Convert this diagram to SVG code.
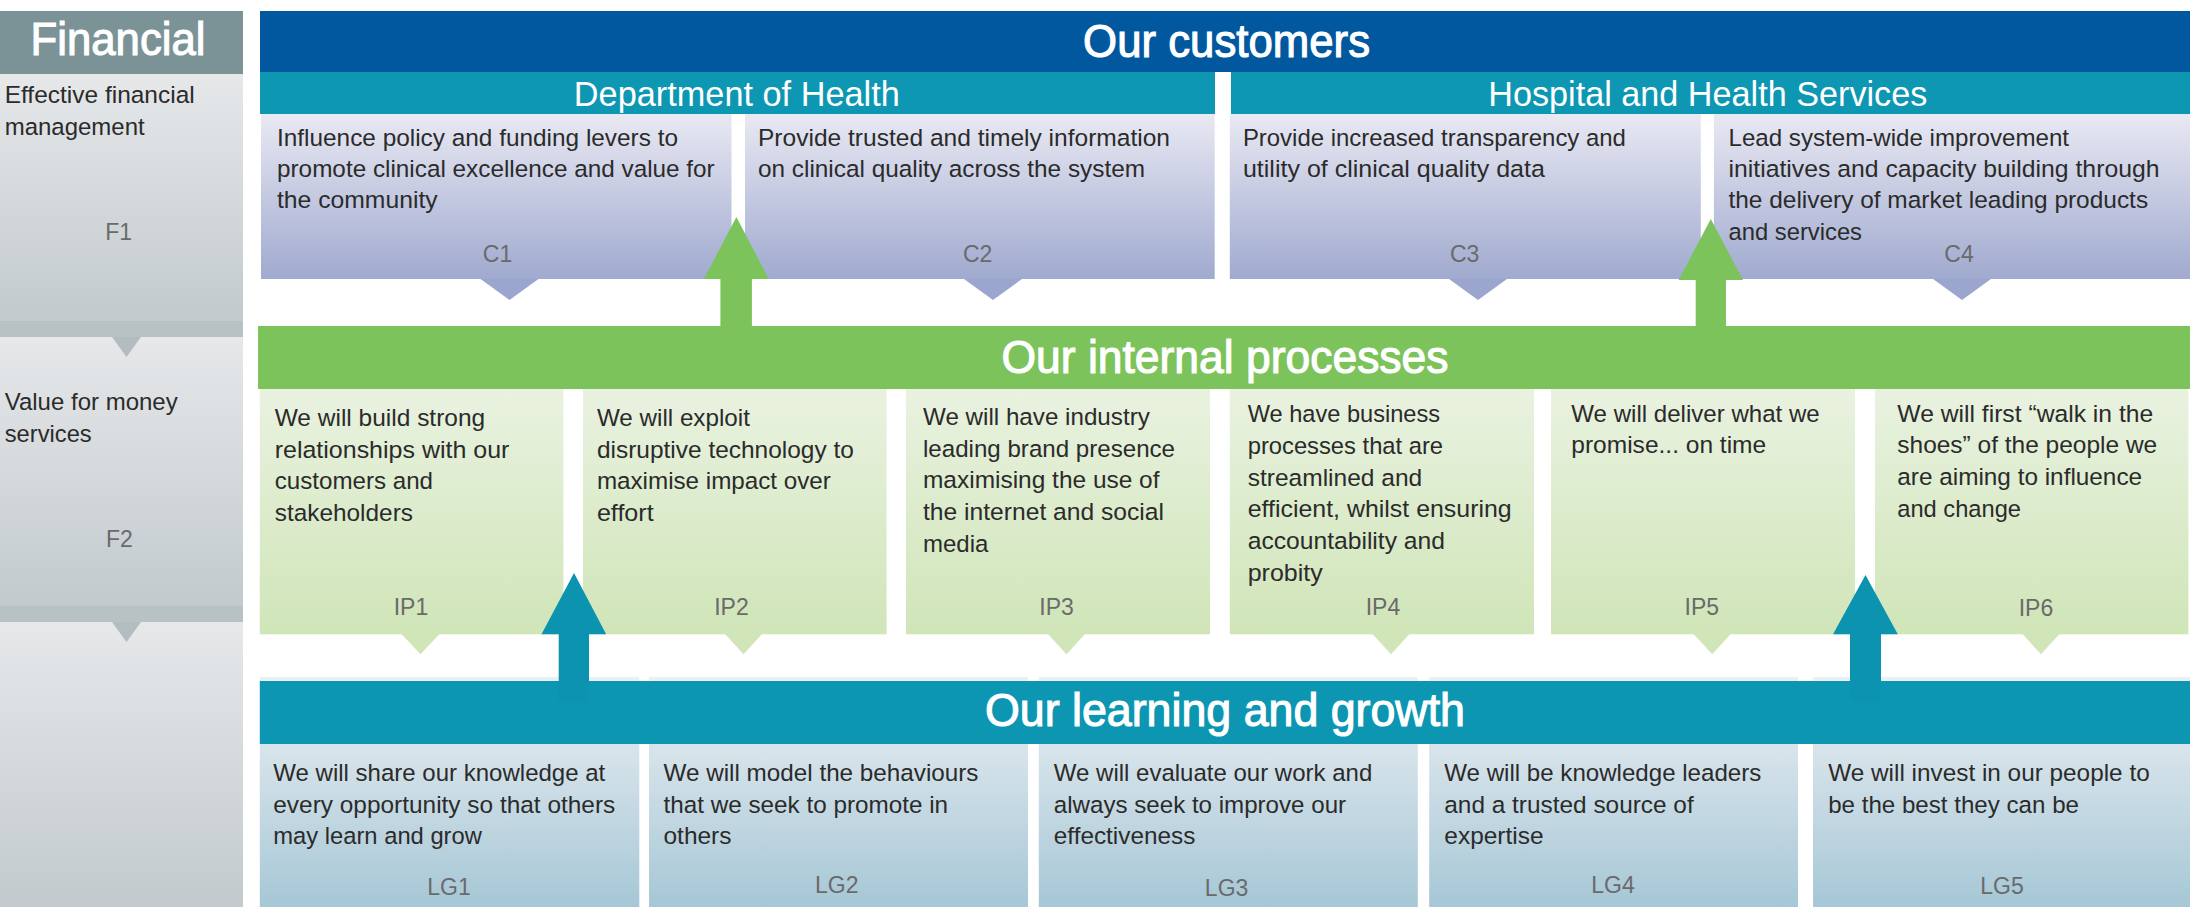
<svg xmlns="http://www.w3.org/2000/svg" width="2190" height="907" viewBox="0 0 2190 907">
<style>
.t{font-family:"Liberation Sans Narrow","Liberation Sans",Arial,sans-serif;font-size:24.5px;fill:#2b2b2b}
.lb{font-family:"Liberation Sans Narrow","Liberation Sans",Arial,sans-serif;font-size:23px;fill:#6a6a6a;text-anchor:middle}
.h1{font-family:"Liberation Sans",Arial,sans-serif;font-size:46px;fill:#fff;stroke:#fff;stroke-width:1.1px;text-anchor:middle}
.h2{font-family:"Liberation Sans",Arial,sans-serif;font-size:35px;fill:#fff;text-anchor:middle}
.band{fill:#b8c1c4}
.ftri{fill:#b3bdc0}
.ctri{fill:#9ba6cf}
.iptri{fill:#d0e5b8}
.garrow{fill:#7dc35c}
.tarrow{fill:#0b93af}
</style>
<defs>
<linearGradient id="gF" x1="0" y1="0" x2="0" y2="1"><stop offset="0" stop-color="#e6e8ea"/><stop offset="1" stop-color="#c2cacd"/></linearGradient>
<linearGradient id="gC" x1="0" y1="0" x2="0" y2="1"><stop offset="0" stop-color="#e9e9f3"/><stop offset="1" stop-color="#a0aacf"/></linearGradient>
<linearGradient id="gIP" x1="0" y1="0" x2="0" y2="1"><stop offset="0" stop-color="#e9f2e0"/><stop offset="1" stop-color="#d0e5b8"/></linearGradient>
<linearGradient id="gLG" x1="0" y1="0" x2="0" y2="1"><stop offset="0" stop-color="#eaf1f4"/><stop offset="0.3" stop-color="#d8e4eb"/><stop offset="1" stop-color="#a6c7d6"/></linearGradient>
</defs>
<rect width="2190" height="907" fill="#fff"/>

<g id="financial">
<rect x="0" y="11" width="243" height="63" fill="#7b9397"/>
<text class="h1" x="118" y="55" font-size="45" textLength="175" lengthAdjust="spacingAndGlyphs">Financial</text>
</g>
<g id="F1">
<rect x="0" y="74" width="243" height="247" fill="url(#gF)"/>
<rect x="0" y="321" width="243" height="16" class="band"/>
<polygon points="112,337 141,337 126.5,357" class="ftri"/>
<text class="t" x="4.7" y="103" textLength="190" lengthAdjust="spacingAndGlyphs">Effective financial</text>
<text class="t" x="4.7" y="135" textLength="140" lengthAdjust="spacingAndGlyphs">management</text>
<text class="lb" x="118.7" y="240" font-size="24">F1</text>
</g>
<g id="F2">
<rect x="0" y="337" width="243" height="269" fill="url(#gF)"/>
<polygon points="112,337 141,337 126.5,357" class="ftri"/>
<rect x="0" y="606" width="243" height="16" class="band"/>
<polygon points="112,622 141,622 126.5,642" class="ftri"/>
<text class="t" x="4.7" y="410" textLength="173" lengthAdjust="spacingAndGlyphs">Value for money</text>
<text class="t" x="4.7" y="441.7" textLength="87" lengthAdjust="spacingAndGlyphs">services</text>
<text class="lb" x="119.4" y="546.7" font-size="24">F2</text>
</g>
<g id="F3">
<rect x="0" y="622" width="243" height="285" fill="url(#gF)"/>
<polygon points="112,622 141,622 126.5,642" class="ftri"/>
</g>

<g id="customers-header">
<rect x="260" y="11" width="1930" height="61" fill="#02589e"/>
<text class="h1" x="1226.6" y="56.7" textLength="287" lengthAdjust="spacingAndGlyphs">Our customers</text>
</g>
<g id="doh-header">
<rect x="260" y="72" width="955" height="42" fill="#0e97b3"/>
<text class="h2" x="736.8" y="106" textLength="326" lengthAdjust="spacingAndGlyphs">Department of Health</text>
</g>
<g id="hhs-header">
<rect x="1231" y="72" width="959" height="42" fill="#0e97b3"/>
<text class="h2" x="1707.8" y="106" textLength="439" lengthAdjust="spacingAndGlyphs">Hospital and Health Services</text>
</g>

<g id="C1">
<rect x="261" y="114" width="470.5" height="165" fill="url(#gC)"/>
<polygon points="480.5,279 538.5,279 509.5,300" class="ctri"/>
<text class="t" x="277" y="145.7" textLength="401" lengthAdjust="spacingAndGlyphs">Influence policy and funding levers to</text>
<text class="t" x="277" y="177" textLength="437.7" lengthAdjust="spacingAndGlyphs">promote clinical excellence and value for</text>
<text class="t" x="277" y="208.3" textLength="160.6" lengthAdjust="spacingAndGlyphs">the community</text>
<text class="lb" x="497.5" y="262.3" font-size="22">C1</text>
</g>
<g id="C2">
<rect x="745" y="114" width="469.7" height="165" fill="url(#gC)"/>
<polygon points="964,279 1022,279 993,300" class="ctri"/>
<text class="t" x="758" y="145.7" textLength="412" lengthAdjust="spacingAndGlyphs">Provide trusted and timely information</text>
<text class="t" x="758" y="177" textLength="387" lengthAdjust="spacingAndGlyphs">on clinical quality across the system</text>
<text class="lb" x="977.6" y="262.3" font-size="22">C2</text>
</g>
<g id="C3">
<rect x="1229.8" y="114" width="471" height="165" fill="url(#gC)"/>
<polygon points="1449,279 1507,279 1478,300" class="ctri"/>
<text class="t" x="1242.9" y="145.7" textLength="383" lengthAdjust="spacingAndGlyphs">Provide increased transparency and</text>
<text class="t" x="1242.9" y="177" textLength="302" lengthAdjust="spacingAndGlyphs">utility of clinical quality data</text>
<text class="lb" x="1464.6" y="262.3" font-size="22">C3</text>
</g>
<g id="C4">
<rect x="1713.9" y="114" width="476.1" height="165" fill="url(#gC)"/>
<polygon points="1933,279 1991,279 1962,300" class="ctri"/>
<text class="t" x="1728.5" y="145.7" textLength="340.5" lengthAdjust="spacingAndGlyphs">Lead system-wide improvement</text>
<text class="t" x="1728.5" y="177" textLength="431" lengthAdjust="spacingAndGlyphs">initiatives and capacity building through</text>
<text class="t" x="1728.5" y="208.3" textLength="419.6" lengthAdjust="spacingAndGlyphs">the delivery of market leading products</text>
<text class="t" x="1728.5" y="240" textLength="133.5" lengthAdjust="spacingAndGlyphs">and services</text>
<text class="lb" x="1959" y="262.3" font-size="22">C4</text>
</g>

<g id="internal-header">
<rect x="258" y="326" width="1932" height="63" fill="#7dc35c"/>
<text class="h1" x="1225" y="373.3" textLength="447" lengthAdjust="spacingAndGlyphs">Our internal processes</text>
</g>

<g id="IP1">
<rect x="259.8" y="389" width="303.6" height="245.3" fill="url(#gIP)"/>
<polygon points="401.5,634 439.5,634 420.5,654.3" class="iptri"/>
<text class="t" x="274.7" y="426" textLength="210.5" lengthAdjust="spacingAndGlyphs">We will build strong</text>
<text class="t" x="274.7" y="457.7" textLength="234.7" lengthAdjust="spacingAndGlyphs">relationships with our</text>
<text class="t" x="274.7" y="489.4" textLength="158.3" lengthAdjust="spacingAndGlyphs">customers and</text>
<text class="t" x="274.7" y="521" textLength="138.3" lengthAdjust="spacingAndGlyphs">stakeholders</text>
<text class="lb" x="411" y="615">IP1</text>
</g>
<g id="IP2">
<rect x="583" y="389" width="303.6" height="245.3" fill="url(#gIP)"/>
<polygon points="725,634 762,634 743.5,654.3" class="iptri"/>
<text class="t" x="596.9" y="426" textLength="153" lengthAdjust="spacingAndGlyphs">We will exploit</text>
<text class="t" x="596.9" y="457.7" textLength="257" lengthAdjust="spacingAndGlyphs">disruptive technology to</text>
<text class="t" x="596.9" y="489.4" textLength="234" lengthAdjust="spacingAndGlyphs">maximise impact over</text>
<text class="t" x="596.9" y="521" textLength="56.8" lengthAdjust="spacingAndGlyphs">effort</text>
<text class="lb" x="731.5" y="615">IP2</text>
</g>
<g id="IP3">
<rect x="906" y="389" width="304" height="245.3" fill="url(#gIP)"/>
<polygon points="1048,634 1085,634 1066.5,654.3" class="iptri"/>
<text class="t" x="923" y="425" textLength="226.8" lengthAdjust="spacingAndGlyphs">We will have industry</text>
<text class="t" x="923" y="456.7" textLength="252" lengthAdjust="spacingAndGlyphs">leading brand presence</text>
<text class="t" x="923" y="488.4" textLength="236.5" lengthAdjust="spacingAndGlyphs">maximising the use of</text>
<text class="t" x="923" y="520.1" textLength="241" lengthAdjust="spacingAndGlyphs">the internet and social</text>
<text class="t" x="923" y="551.8" textLength="65.4" lengthAdjust="spacingAndGlyphs">media</text>
<text class="lb" x="1056.6" y="615">IP3</text>
</g>
<g id="IP4">
<rect x="1229.8" y="389" width="304.2" height="245.3" fill="url(#gIP)"/>
<polygon points="1372.5,634 1409.5,634 1391,654.3" class="iptri"/>
<text class="t" x="1247.7" y="422" textLength="192.4" lengthAdjust="spacingAndGlyphs">We have business</text>
<text class="t" x="1247.7" y="453.8" textLength="195.4" lengthAdjust="spacingAndGlyphs">processes that are</text>
<text class="t" x="1247.7" y="485.6" textLength="174.5" lengthAdjust="spacingAndGlyphs">streamlined and</text>
<text class="t" x="1247.7" y="517.4" textLength="264" lengthAdjust="spacingAndGlyphs">efficient, whilst ensuring</text>
<text class="t" x="1247.7" y="549.2" textLength="197.3" lengthAdjust="spacingAndGlyphs">accountability and</text>
<text class="t" x="1247.7" y="581" textLength="75" lengthAdjust="spacingAndGlyphs">probity</text>
<text class="lb" x="1383" y="615">IP4</text>
</g>
<g id="IP5">
<rect x="1551" y="389" width="304" height="245.3" fill="url(#gIP)"/>
<polygon points="1693.7,634 1730.7,634 1712.2,654.3" class="iptri"/>
<text class="t" x="1571.3" y="421.7" textLength="248.4" lengthAdjust="spacingAndGlyphs">We will deliver what we</text>
<text class="t" x="1571.3" y="453.3" textLength="194.9" lengthAdjust="spacingAndGlyphs">promise... on time</text>
<text class="lb" x="1701.8" y="615">IP5</text>
</g>
<g id="IP6">
<rect x="1875" y="389" width="313.4" height="245.3" fill="url(#gIP)"/>
<polygon points="2022.5,634 2059.5,634 2041,654.3" class="iptri"/>
<text class="t" x="1897.3" y="421.7" textLength="255.9" lengthAdjust="spacingAndGlyphs">We will first “walk in the</text>
<text class="t" x="1897.3" y="453.3" textLength="259.9" lengthAdjust="spacingAndGlyphs">shoes” of the people we</text>
<text class="t" x="1897.3" y="485" textLength="244.8" lengthAdjust="spacingAndGlyphs">are aiming to influence</text>
<text class="t" x="1897.3" y="516.7" textLength="123.7" lengthAdjust="spacingAndGlyphs">and change</text>
<text class="lb" x="2036" y="615.5">IP6</text>
</g>

<g id="LG1">
<rect x="259.8" y="677" width="379.5" height="230" fill="url(#gLG)"/>
<text class="t" x="273.3" y="780.5" textLength="332" lengthAdjust="spacingAndGlyphs">We will share our knowledge at</text>
<text class="t" x="273.3" y="812.5" textLength="342" lengthAdjust="spacingAndGlyphs">every opportunity so that others</text>
<text class="t" x="273.3" y="844.3" textLength="208.6" lengthAdjust="spacingAndGlyphs">may learn and grow</text>
<text class="lb" x="449" y="895">LG1</text>
</g>
<g id="LG2">
<rect x="649" y="677" width="379" height="230" fill="url(#gLG)"/>
<text class="t" x="663.5" y="780.5" textLength="315" lengthAdjust="spacingAndGlyphs">We will model the behaviours</text>
<text class="t" x="663.5" y="812.5" textLength="284.6" lengthAdjust="spacingAndGlyphs">that we seek to promote in</text>
<text class="t" x="663.5" y="844.3" textLength="68" lengthAdjust="spacingAndGlyphs">others</text>
<text class="lb" x="836.8" y="892.7">LG2</text>
</g>
<g id="LG3">
<rect x="1038.8" y="677" width="379" height="230" fill="url(#gLG)"/>
<text class="t" x="1053.8" y="780.5" textLength="318.5" lengthAdjust="spacingAndGlyphs">We will evaluate our work and</text>
<text class="t" x="1053.8" y="812.5" textLength="292.3" lengthAdjust="spacingAndGlyphs">always seek to improve our</text>
<text class="t" x="1053.8" y="844.3" textLength="141.6" lengthAdjust="spacingAndGlyphs">effectiveness</text>
<text class="lb" x="1226.6" y="896">LG3</text>
</g>
<g id="LG4">
<rect x="1429.2" y="677" width="368.8" height="230" fill="url(#gLG)"/>
<text class="t" x="1444.3" y="780.5" textLength="317" lengthAdjust="spacingAndGlyphs">We will be knowledge leaders</text>
<text class="t" x="1444.3" y="812.5" textLength="249.4" lengthAdjust="spacingAndGlyphs">and a trusted source of</text>
<text class="t" x="1444.3" y="844.3" textLength="99.3" lengthAdjust="spacingAndGlyphs">expertise</text>
<text class="lb" x="1613" y="892.7">LG4</text>
</g>
<g id="LG5">
<rect x="1813" y="677" width="377" height="230" fill="url(#gLG)"/>
<text class="t" x="1828.2" y="780.5" textLength="321.5" lengthAdjust="spacingAndGlyphs">We will invest in our people to</text>
<text class="t" x="1828.2" y="812.5" textLength="250.8" lengthAdjust="spacingAndGlyphs">be the best they can be</text>
<text class="lb" x="2002" y="894">LG5</text>
</g>

<g id="learning-header">
<rect x="259.8" y="681" width="1930.2" height="63" fill="#0d96b2"/>
<text class="h1" x="1225" y="726" textLength="480" lengthAdjust="spacingAndGlyphs">Our learning and growth</text>
</g>

<g id="connectors">
<polygon class="garrow" points="720.4,326 751.9,326 751.9,279 768.8,279 736.4,217 703.9,279 720.4,279"/>
<polygon class="garrow" points="1695.7,326 1726,326 1726,280 1743,280 1710.8,219 1678.6,280 1695.7,280"/>
<polygon class="tarrow" points="558.7,702 589,702 589,634.3 606.2,634.3 574,573 541.5,634.3 558.7,634.3"/>
<polygon class="tarrow" points="1850,702 1881,702 1881,634.3 1897.8,634.3 1865.5,575 1833,634.3 1850,634.3"/>
</g>
</svg>
